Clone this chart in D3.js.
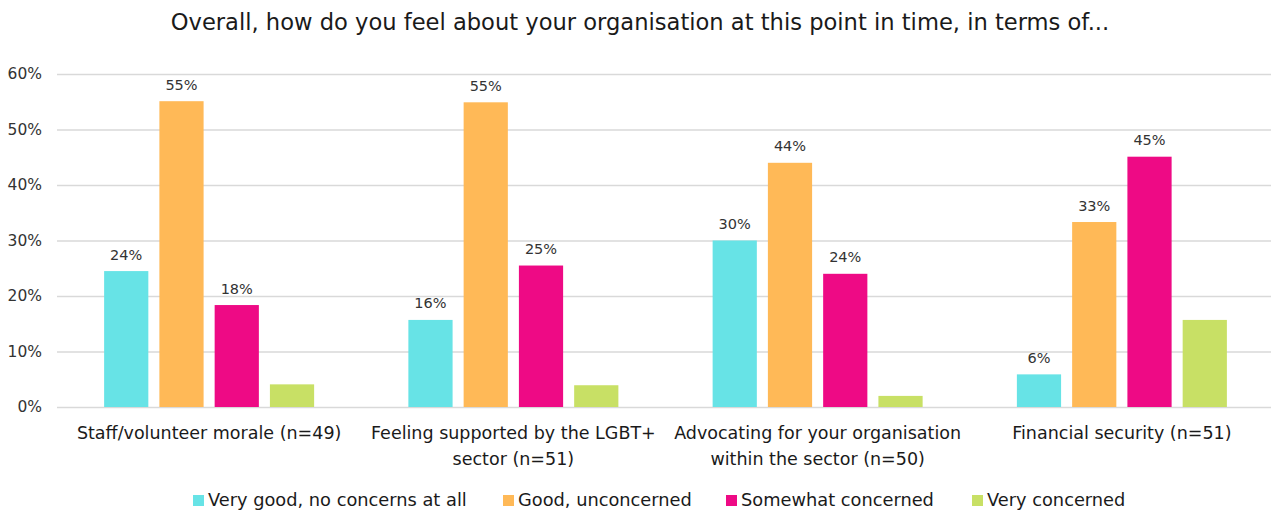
<!DOCTYPE html>
<html>
<head>
<meta charset="utf-8">
<script src="https://cdn.jsdelivr.net/npm/d3@7"></script>
<style>
  html, body { margin: 0; padding: 0; background: #fff; }
  svg { display: block; font-family: "DejaVu Sans", "Noto Sans", sans-serif; }
</style>
</head>
<body>
<svg id="chart" width="1279" height="511"></svg>
<script>
// Survey question groups (each label split into its display lines)
const categories = [
  ["Staff/volunteer morale (n=49)"],
  ["Feeling supported by the LGBT+", "sector (n=51)"],
  ["Advocating for your organisation", "within the sector (n=50)"],
  ["Financial security (n=51)"]
];

// Response options
const series = ["Very good, no concerns at all", "Good, unconcerned", "Somewhat concerned", "Very concerned"];
const seriesColors = ["#67E3E6", "#FFB957", "#EE0A85", "#C8E065"];

// Percentage of respondents, one array per response option (order follows categories)
const veryGood      = [24.49, 15.69, 30.00, 5.88];
const good          = [55.10, 54.90, 44.00, 33.33];
const somewhat      = [18.37, 25.49, 24.00, 45.10];
const veryConcerned = [4.08, 3.92, 2.00, 15.69];
const seriesValues = [veryGood, good, somewhat, veryConcerned];

// Only the first three response options carry value labels
const labelledSeries = [true, true, true, false];

const yTicks = [0, 10, 20, 30, 40, 50, 60];

const title = "Overall, how do you feel about your organisation at this point in time, in terms of...";

const svg = d3.select("#chart");
const margin = { left: 57, right: 5, top: 74, bottom: 104 };
const W = 1279, H = 511;

const x0 = d3.scaleBand()
  .domain(d3.range(categories.length))
  .range([margin.left, W - margin.right]);

const x1 = d3.scaleBand()
  .domain(d3.range(series.length))
  .range([x0.bandwidth() / 2 - 105, x0.bandwidth() / 2 + 105])
  .paddingInner(0.2);

const y = d3.scaleLinear().domain([0, 60]).range([H - margin.bottom, margin.top]);

// Title
svg.append("text")
  .attr("x", 640).attr("y", 30)
  .attr("text-anchor", "middle")
  .attr("font-size", 22.6)
  .attr("fill", "#1a1a1a")
  .text(title);

// Gridlines and y axis labels
const yAxis = d3.axisLeft(y)
  .tickValues(yTicks)
  .tickSize(-(W - margin.right - margin.left - 3))
  .tickPadding(15)
  .tickFormat(d => d + "%");

const ga = svg.append("g")
  .attr("transform", `translate(${margin.left},0)`)
  .call(yAxis);
ga.select(".domain").remove();
ga.selectAll(".tick line").attr("stroke", "#d9d9d9").attr("stroke-width", 1.3);
ga.selectAll(".tick text")
  .attr("font-size", 15.5)
  .attr("fill", "#333")
  .attr("font-family", "DejaVu Sans, sans-serif");

// Bars
const groups = svg.append("g").selectAll("g")
  .data(categories)
  .join("g")
  .attr("transform", (d, i) => `translate(${x0(i)},0)`);

groups.selectAll("rect")
  .data((d, ci) => series.map((s, si) => ({ si, v: seriesValues[si][ci] })))
  .join("rect")
  .attr("x", d => x1(d.si))
  .attr("width", x1.bandwidth())
  .attr("y", d => y(d.v))
  .attr("height", d => y(0) - y(d.v))
  .attr("fill", d => seriesColors[d.si]);

groups.selectAll("text.val")
  .data((d, ci) => series.map((s, si) => ({ si, v: seriesValues[si][ci] })).filter(d => labelledSeries[d.si]))
  .join("text")
  .attr("class", "val")
  .attr("x", d => x1(d.si) + x1.bandwidth() / 2)
  .attr("y", d => y(d.v) - 11.5)
  .attr("text-anchor", "middle")
  .attr("font-size", 14.5)
  .attr("fill", "#333")
  .text(d => Math.round(d.v) + "%");

// Category labels
groups.append("text")
  .attr("text-anchor", "middle")
  .attr("font-size", 17.5)
  .attr("fill", "#1a1a1a")
  .selectAll("tspan")
  .data(d => d)
  .join("tspan")
  .attr("x", x0.bandwidth() / 2)
  .attr("y", (d, i) => 439 + i * 26)
  .text(d => d);

// Legend
const legend = svg.append("g").attr("transform", "translate(0,506)");
const legendX = [193, 503, 726, 972];
const items = legend.selectAll("g")
  .data(series)
  .join("g")
  .attr("transform", (d, i) => `translate(${legendX[i]},0)`);
items.append("rect")
  .attr("x", 0).attr("y", -11)
  .attr("width", 11).attr("height", 11)
  .attr("fill", (d, i) => seriesColors[i]);
items.append("text")
  .attr("x", 15).attr("y", 0)
  .attr("font-size", 17.8)
  .attr("fill", "#1a1a1a")
  .text(d => d);
</script>
</body>
</html>
